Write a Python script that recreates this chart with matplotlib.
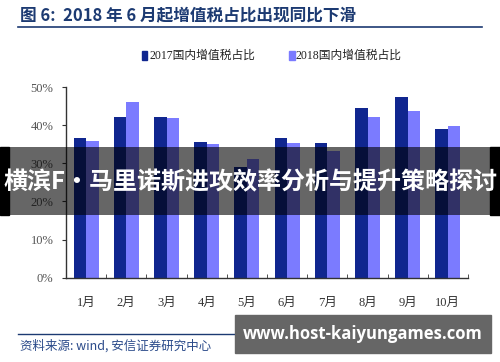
import numpy as np
import matplotlib
matplotlib.use("Agg")
import matplotlib.pyplot as plt
from matplotlib.patches import Rectangle
from matplotlib.lines import Line2D

months = ["1月", "2月", "3月", "4月", "5月", "6月", "7月", "8月", "9月", "10月"]
share_2017 = [36.7, 42.2, 42.2, 35.7, 29.0, 36.7, 35.4, 44.6, 47.4, 39.1]
share_2018 = [36.0, 46.0, 41.9, 35.0, 31.2, 35.4, 33.3, 42.3, 43.7, 39.8]
yticks = [0, 10, 20, 30, 40, 50]

DARK = "#10268F"
LIGHT = "#7B7BFF"
TITLE_BLUE = "#1C3A72"
CJK = ["Noto Sans CJK SC", "DejaVu Sans"]
SERIF_CJK = ["Liberation Serif", "Noto Sans CJK SC"]

fig = plt.figure(figsize=(5.0, 3.62), dpi=100)
fig.patch.set_facecolor("white")
ax = fig.add_axes([0.132, 0.233, 0.804, 0.526])

x = np.arange(len(months))
w = 0.31
ax.bar(x - w / 2, share_2017, width=w, color=DARK, zorder=2)
ax.bar(x + w / 2, share_2018, width=w, color=LIGHT, zorder=2)

ax.set_xlim(-0.5, len(months) - 0.5)
ax.set_ylim(0, 50)
ax.set_yticks(yticks)
ax.set_yticklabels([f"{v}%" for v in yticks], family="Liberation Serif",
                   fontsize=9, color="#555555")
ax.set_xticks(x)
ax.set_xticklabels(months, family=SERIF_CJK, fontsize=9, color="#333333")
ax.tick_params(axis="x", length=0, pad=14)
ax.tick_params(axis="y", length=3, direction="out", color="#333333", pad=6)
# small separator ticks between categories, pointing up
ax.set_xticks(np.arange(0.5, len(months), 1.0), minor=True)
ax.tick_params(axis="x", which="minor", direction="in", length=3, color="#333333")
for s in ("top", "right"):
    ax.spines[s].set_visible(False)
for s in ("left", "bottom"):
    ax.spines[s].set_color("#333333")
    ax.spines[s].set_linewidth(1.0)

# title and rule
fig.text(0.04, 0.957, "图 6:  2018 年 6 月起增值税占比出现同比下滑", family=CJK,
         fontsize=12, fontweight="bold", color=TITLE_BLUE, ha="left", va="center")
fig.add_artist(Line2D([0.036, 0.964], [0.925, 0.925], color=TITLE_BLUE, lw=1.2))

# legend
fig.add_artist(Rectangle((0.283, 0.835), 0.011, 0.024, color=DARK))
fig.text(0.298, 0.847, "2017国内增值税占比", family=SERIF_CJK, fontsize=8.5,
         color="#222222", ha="left", va="center")
fig.add_artist(Rectangle((0.578, 0.835), 0.011, 0.024, color=LIGHT))
fig.text(0.592, 0.847, "2018国内增值税占比", family=SERIF_CJK, fontsize=8.5,
         color="#222222", ha="left", va="center")

# source line
fig.add_artist(Line2D([0.036, 0.48], [0.077, 0.077], color=TITLE_BLUE, lw=1.0))
fig.text(0.04, 0.045, "资料来源: wind, 安信证券研究中心", family=CJK, fontsize=9,
         style="italic", color="#2A4A8A", ha="left", va="center")

# overlay band: opaque black ends, translucent middle
fig.add_artist(Rectangle((0, 0.406), 0.017, 0.189, color="black", zorder=5))
fig.add_artist(Rectangle((0.98, 0.406), 0.02, 0.189, color="black", zorder=5))
fig.add_artist(Rectangle((0.017, 0.406), 0.963, 0.189, color="black", alpha=0.6,
                         lw=0, zorder=5))
fig.text(0.5, 0.497, "横滨F·马里诺斯进攻效率分析与提升策略探讨", family=CJK,
         fontsize=17.3, fontweight="bold", color="white", ha="center", va="center",
         zorder=6)

# url box
fig.add_artist(Rectangle((0.47, 0.025), 0.511, 0.105, color="#666666", zorder=5))
fig.text(0.726, 0.077, "www.host-kaiyungames.com", family=["Open Sans", "DejaVu Sans"],
         fontsize=12, fontweight="bold", color="white", ha="center", va="center",
         zorder=6)

fig.savefig("out.png", dpi=100, facecolor="white")
